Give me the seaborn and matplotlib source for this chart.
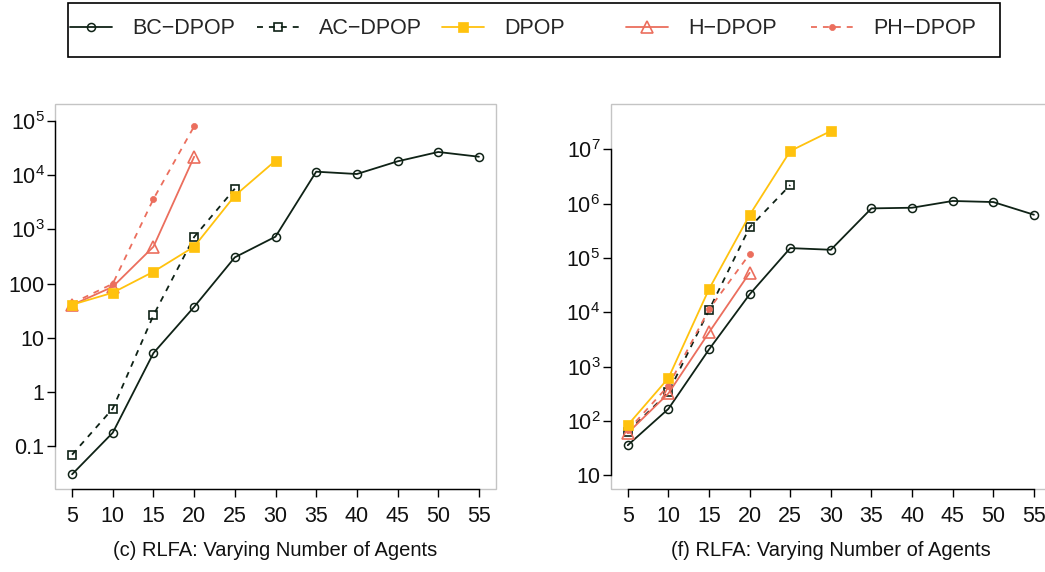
import numpy as np
import pandas as pd
import matplotlib
matplotlib.use("Agg")
import matplotlib.pyplot as plt
from matplotlib.patches import Rectangle
import seaborn as sns

# ---------------- data ----------------
agents = [5, 10, 15, 20, 25, 30, 35, 40, 45, 50, 55]

# panel (c)
c_bc = [0.03, 0.176, 5.2, 37, 304, 732, 11600, 10500, 18000, 26800, 21900]
c_ac = [0.069, 0.49, 25.9, 722, 5630]
c_dpop = [40.6, 67.6, 165, 478, 4180, 18500]
c_h = [40, 87, 478, 21900]
c_ph = [43, 99, 3630, 79800]

# panel (f)
f_bc = [35.8, 167, 2070, 21400, 152000, 141600, 818000, 841000, 1.12e6, 1.07e6, 625000]
f_ac = [63, 335, 11000, 366000, 2.2e6]
f_dpop = [84, 614, 26700, 617000, 9.3e6, 2.17e7]
f_h = [60, 321, 4260, 53300]
f_ph = [67, 444, 11300, 118000]

methods = ["BC\u2212DPOP", "AC\u2212DPOP", "DPOP", "H\u2212DPOP", "PH\u2212DPOP"]
x_ticks = [5, 10, 15, 20, 25, 30, 35, 40, 45, 50, 55]
c_yticks = [0.1, 1, 10, 100, 1e3, 1e4, 1e5]
c_ylabels = ["0.1", "1", "10", "100", "$10^3$", "$10^4$", "$10^5$"]
f_yticks = [10, 1e2, 1e3, 1e4, 1e5, 1e6, 1e7]
f_ylabels = ["10", "$10^2$", "$10^3$", "$10^4$", "$10^5$", "$10^6$", "$10^7$"]
titles = ["(c) RLFA: Varying Number of Agents", "(f) RLFA: Varying Number of Agents"]

# ---------------- style ----------------
sns.set_theme(style="white")
plt.rcParams["font.family"] = ["Liberation Sans", "DejaVu Sans"]
plt.rcParams["mathtext.fontset"] = "custom"
plt.rcParams["mathtext.rm"] = "Liberation Sans"
plt.rcParams["mathtext.it"] = "Liberation Sans:italic"
plt.rcParams["mathtext.bf"] = "Liberation Sans:bold"

DARK = "#0f2216"
GOLD = "#ffc20e"
SALMON = "#eb6e5d"
FS_TICK = 15.5
FS_LEG = 15.5
FS_TITLE = 14.5

styles = {
    "BC\u2212DPOP": dict(color=DARK, marker="o", linestyle="-", markerfacecolor="none",
                         markeredgecolor=DARK, markersize=5.8, markeredgewidth=1.1),
    "AC\u2212DPOP": dict(color=DARK, marker="s", linestyle=(0, (3.3, 3.3)), markerfacecolor="none",
                         markeredgecolor=DARK, markersize=6.0, markeredgewidth=1.2),
    "DPOP": dict(color=GOLD, marker="s", linestyle="-", markerfacecolor=GOLD,
                 markeredgecolor=GOLD, markersize=6.5, markeredgewidth=0.5),
    "H\u2212DPOP": dict(color=SALMON, marker="^", linestyle="-", markerfacecolor="none",
                        markeredgecolor=SALMON, markersize=8.0, markeredgewidth=1.2),
    "PH\u2212DPOP": dict(color=SALMON, marker="o", linestyle=(0, (3.3, 3.3)), markerfacecolor=SALMON,
                         markeredgecolor=SALMON, markersize=4.4, markeredgewidth=0.5),
}
draw_order = ["BC\u2212DPOP", "AC\u2212DPOP", "H\u2212DPOP", "PH\u2212DPOP", "DPOP"]

W, H = 1045, 572
fig = plt.figure(figsize=(W / 100, H / 100), dpi=100)

def fx(px):
    return px / W

def fy(py):
    return 1 - py / H

ax_c = fig.add_axes([fx(55), fy(489), fx(496) - fx(55), fy(104) - fy(489)])
ax_f = fig.add_axes([fx(610.7), fy(489), fx(1051) - fx(610.7), fy(104) - fy(489)])

panels = [
    (ax_c, [c_bc, c_ac, c_dpop, c_h, c_ph], c_yticks, c_ylabels, (10 ** -1.794, 10 ** 5.314), titles[0]),
    (ax_f, [f_bc, f_ac, f_dpop, f_h, f_ph], f_yticks, f_ylabels, (10 ** 0.748, 10 ** 7.834), titles[1]),
]

for ax, series, yt, yl, ylim, title in panels:
    data = dict(zip(methods, series))
    for m in draw_order:
        vals = data[m]
        df = pd.DataFrame({"agents": agents[:len(vals)], "value": vals})
        sns.lineplot(data=df, x="agents", y="value", ax=ax, linewidth=1.3,
                     label=m, legend=False, **styles[m])
    ax.set_yscale("log")
    ax.set_xlim(2.9, 57.1)
    ax.set_ylim(*ylim)
    ax.set_xticks(x_ticks)
    ax.set_xticklabels([str(t) for t in x_ticks])
    ax.set_yticks(yt)
    ax.set_yticklabels(yl)
    ax.yaxis.set_minor_locator(matplotlib.ticker.NullLocator())
    ax.set_xlabel("")
    ax.set_ylabel("")
    for s in ["top", "right"]:
        ax.spines[s].set_visible(False)
    for s in ["left", "bottom"]:
        ax.spines[s].set_color("black")
        ax.spines[s].set_linewidth(1.0)
    ax.spines["left"].set_bounds(yt[0], yt[-1])
    ax.spines["bottom"].set_bounds(x_ticks[0], x_ticks[-1])
    ax.add_patch(Rectangle((0, 0), 1, 1, transform=ax.transAxes, fill=False,
                           edgecolor="#c4c4c4", linewidth=1.0, clip_on=False, zorder=0.5))
    ax.tick_params(axis="both", which="major", direction="out", length=5.5, width=1.0,
                   color="black", labelsize=FS_TICK, labelcolor="#111111", bottom=True, left=True)
    ax.tick_params(axis="x", pad=6.5)
    ax.tick_params(axis="y", pad=2)
    pos = ax.get_position()
    fig.text((pos.x0 + pos.x1) / 2, fy(551), title, ha="center", va="center",
             fontsize=FS_TITLE, color="#111111")

# ---------------- legend ----------------
handles, labels = ax_c.get_legend_handles_labels()
hmap = dict(zip(labels, handles))
fig.patches.append(Rectangle((fx(68), fy(57)), fx(1000) - fx(68), fy(3) - fy(57),
                             transform=fig.transFigure, fill=False, edgecolor="black",
                             linewidth=1.2, figure=fig))
starts = [70, 257, 442, 626, 811]
for m, xs in zip(methods, starts):
    fig.legend([hmap[m]], [m], loc="center left", bbox_to_anchor=(fx(xs), fy(29)),
               frameon=False, fontsize=FS_LEG, handlelength=1.95, handletextpad=0.95,
               borderpad=0, borderaxespad=0, numpoints=1)

fig.savefig("out.png", dpi=100)
